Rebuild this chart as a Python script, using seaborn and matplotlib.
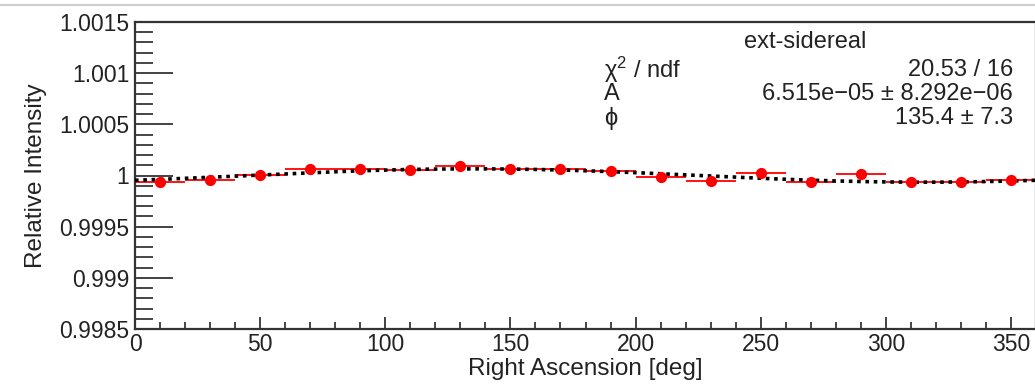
import numpy as np
import pandas as pd
import matplotlib
matplotlib.use("Agg")
import matplotlib.pyplot as plt
from matplotlib.lines import Line2D
from matplotlib.ticker import MultipleLocator, FuncFormatter
import seaborn as sns

# ---- data ----
ra_centers = [10, 30, 50, 70, 90, 110, 130, 150, 170, 190, 210, 230, 250, 270, 290, 310, 330, 350]
bin_half_width = [10] * 18
rel_intensity = [0.99994, 0.99996, 1.000005, 1.00006, 1.00006, 1.00005, 1.00009, 1.00006, 1.00006,
                 1.000044, 0.99999, 0.999946, 1.000025, 0.999936, 1.00001, 0.999936, 0.999936, 0.99996]
fit_A = 6.515e-05
fit_phi = 135.4
fit_x = np.linspace(0, 360, 361)
fit_y = 1 + fit_A * np.cos(np.deg2rad(fit_x - fit_phi))

stats_title = "ext-sidereal"
stats_names = ["\u03c7$^{2}$ / ndf", "A", "\u03d5"]
stats_values = ["20.53 / 16", "6.515e\u221205 \u00b1 8.292e\u221206", "135.4 \u00b1 7.3"]

df = pd.DataFrame({"ra": ra_centers, "ri": rel_intensity})
fit_df = pd.DataFrame({"ra": fit_x, "ri": fit_y})

sns.set_style("ticks")
plt.rcParams["font.family"] = ["Liberation Sans", "DejaVu Sans"]
plt.rcParams["mathtext.fontset"] = "custom"
plt.rcParams["mathtext.rm"] = "Liberation Sans"
plt.rcParams["mathtext.it"] = "Liberation Sans"
plt.rcParams["mathtext.default"] = "regular"

TXT = "#222222"
W, H = 1035, 387
fig = plt.figure(figsize=(W / 100, H / 100), dpi=100)
ax = fig.add_axes([135 / W, 1 - 329 / H, 901 / W, (329 - 22) / H])

ax.errorbar(ra_centers, rel_intensity, xerr=bin_half_width, fmt="none",
            ecolor="red", elinewidth=1.3, capsize=0, zorder=2)
sns.lineplot(data=fit_df, x="ra", y="ri", ax=ax, color="black", lw=2.6,
             linestyle=(0, (1, 1.3)), zorder=3)
sns.scatterplot(data=df, x="ra", y="ri", ax=ax, color="red", s=65,
                edgecolor="red", linewidth=0, zorder=4)

ax.set_xlim(0, 360)
ax.set_ylim(0.9985, 1.0015)
ax.xaxis.set_major_locator(MultipleLocator(50))
ax.xaxis.set_minor_locator(MultipleLocator(10))
ax.yaxis.set_major_locator(MultipleLocator(0.0005))
ax.yaxis.set_minor_locator(MultipleLocator(0.0001))
ax.yaxis.set_major_formatter(FuncFormatter(lambda v, p: f"{v:.4f}".rstrip("0").rstrip(".")))

ax.tick_params(axis="x", which="major", direction="in", length=9, width=1.2, labelsize=16.5,
               pad=3, colors=TXT)
ax.tick_params(axis="x", which="minor", direction="in", length=5, width=1.2)
ax.tick_params(axis="y", which="major", direction="in", length=27, width=1.2, labelsize=16.5,
               pad=4, colors=TXT)
ax.tick_params(axis="y", which="minor", direction="in", length=13, width=1.2)
for s in ax.spines.values():
    s.set_linewidth(1.6)
    s.set_color("#333333")

ax.set_xlabel("Right Ascension [deg]", fontsize=17.5, color=TXT, labelpad=1)
ax.set_ylabel("Relative Intensity", fontsize=17.5, color=TXT, labelpad=9)

# stats box text (figure pixel coords)
def fx(px):
    return px / W

def fy(py):
    return 1 - py / H

fig.text(fx(805), fy(42), stats_title, ha="center", va="center", fontsize=17, color=TXT)
rows_y = [70, 94, 118]
for name, val, yy in zip(stats_names, stats_values, rows_y):
    fig.text(fx(604), fy(yy), name, ha="left", va="center", fontsize=17, color=TXT)
    fig.text(fx(1013), fy(yy), val, ha="right", va="center", fontsize=17, color=TXT)

fig.add_artist(Line2D([0, 1], [fy(5), fy(5)], color="#cccccc", lw=1.5, transform=fig.transFigure))

fig.savefig("out.png", dpi=100)
